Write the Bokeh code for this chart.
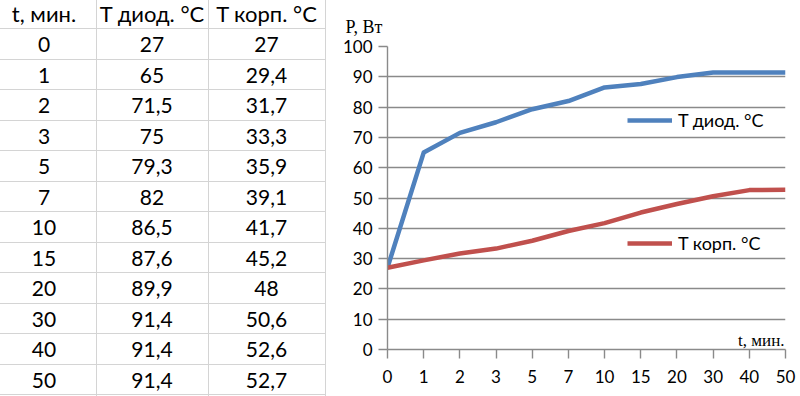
from bokeh.plotting import figure
from bokeh.layouts import row
from bokeh.models import (Range1d, FixedTicker, Legend, LegendItem, Label,
                          ColumnDataSource, Div)
from bokeh.embed import file_html
from bokeh.resources import INLINE

# ---- data ----
t_labels = ["0", "1", "2", "3", "5", "7", "10", "15", "20", "30", "40", "50"]
t_diode = [27, 65, 71.5, 75, 79.3, 82, 86.5, 87.6, 89.9, 91.4, 91.4, 91.4]
t_case = [27, 29.4, 31.7, 33.3, 35.9, 39.1, 41.7, 45.2, 48, 50.6, 52.6, 52.7]
headers = ["t, мин.", "T диод. °C", "T корп. °C"]
diode_name = "T диод. °C"
case_name = "T корп. °C"
y_title = "P, Вт"
x_title = "t, мин."


def fmt(v):
    return ("%g" % v).replace(".", ",")


FONT = "Lato"
GRID_C = "#d4d4d4"

# ---- table (HTML) ----
row_h = 30.5
row0_top = -1.25
col_edges = [-8, 96, 208, 325]
cells = [headers] + [[a, fmt(b), fmt(c)] for a, b, c in zip(t_labels, t_diode, t_case)]
parts = []
for r, rc in enumerate(cells):
    top = row0_top + row_h * r
    parts.append(
        f'<div style="position:absolute;left:{col_edges[0]}px;top:{top}px;'
        f'width:{col_edges[-1] - col_edges[0] + 1}px;height:{row_h}px;'
        f'box-sizing:border-box;border-bottom:1px solid {GRID_C};"></div>')
    for ci, s in enumerate(rc):
        l, rr = col_edges[ci], col_edges[ci + 1]
        fs = "22px" if r == 0 else "21px"
        parts.append(
            f'<div style="position:absolute;left:{l}px;top:{top}px;width:{rr - l}px;'
            f'height:{row_h}px;line-height:{row_h}px;text-align:center;'
            f'font-size:{fs};white-space:nowrap;">{s}</div>')
for x in col_edges[1:]:
    parts.append(f'<div style="position:absolute;left:{x}px;top:-2px;width:1px;'
                 f'height:400px;background:{GRID_C};"></div>')
html = (f'<div style="position:relative;width:330px;height:396px;overflow:hidden;'
        f'font-family:{FONT};font-size:21px;color:#000;background:#fff;">'
        + "".join(parts) + '</div>')
tab = Div(text=html, width=330, height=396, margin=(0, 0, 0, 0))

# ---- chart figure ----
idx = list(range(len(t_labels)))
src = ColumnDataSource(dict(x=idx, d=t_diode, c=t_case))
p = figure(width=470, height=396, frame_width=398, frame_height=303,
           output_backend="svg", toolbar_location=None,
           x_range=Range1d(0, len(t_labels) - 1), y_range=Range1d(0, 100),
           min_border_left=57, min_border_right=15, min_border_top=46,
           min_border_bottom=47, outline_line_color=None, margin=(0, 0, 0, 0))

p.title.text = y_title
p.title.align = "left"
p.title.offset = -42
p.title.standoff = 20
p.title.text_font = "Liberation Serif"
p.title.text_font_size = "18px"
p.title.text_font_style = "normal"
p.title.text_color = "#000000"

axis_col = "#8a8a8a"
p.xgrid.visible = False
p.ygrid.grid_line_color = axis_col
p.ygrid.grid_line_width = 1.4
p.yaxis.ticker = FixedTicker(ticks=list(range(0, 101, 10)))
p.xaxis.ticker = FixedTicker(ticks=idx)
p.xaxis.major_label_overrides = {i: s for i, s in enumerate(t_labels)}
for ax in (p.xaxis, p.yaxis):
    ax.axis_line_color = axis_col
    ax.axis_line_width = 1.4
    ax.major_tick_line_color = axis_col
    ax.major_tick_line_width = 1.4
    ax.major_tick_in = 0
    ax.major_tick_out = 9
    ax.minor_tick_line_color = None
    ax.major_label_text_font = FONT
    ax.major_label_text_font_size = "17px"
    ax.major_label_text_color = "#000000"
p.yaxis.major_label_standoff = 6
p.xaxis.major_label_standoff = 11

r1 = p.line("x", "d", source=src, line_color="#4F81BD", line_width=4.5, line_join="round")
r2 = p.line("x", "c", source=src, line_color="#C0504D", line_width=4.5, line_join="round")


def mk_legend(label, rend, loc):
    lg = Legend(items=[LegendItem(label=label, renderers=[rend])], location=loc,
                background_fill_alpha=0, border_line_alpha=0, padding=0, margin=0,
                glyph_width=45, glyph_height=20, label_standoff=6,
                label_text_font=FONT, label_text_font_size="18px",
                label_text_color="#000000", label_height=20)
    p.add_layout(lg)


mk_legend(diode_name, r1, (240, 218))
mk_legend(case_name, r2, (240, 95))

p.add_layout(Label(x=397, y=9, x_units="screen", y_units="screen", text=x_title,
                   text_font="Liberation Serif", text_font_size="17px",
                   text_baseline="middle", text_align="right", text_color="#000000"))

layout = row(tab, p)
open("out.html", "w").write(file_html(layout, INLINE))
